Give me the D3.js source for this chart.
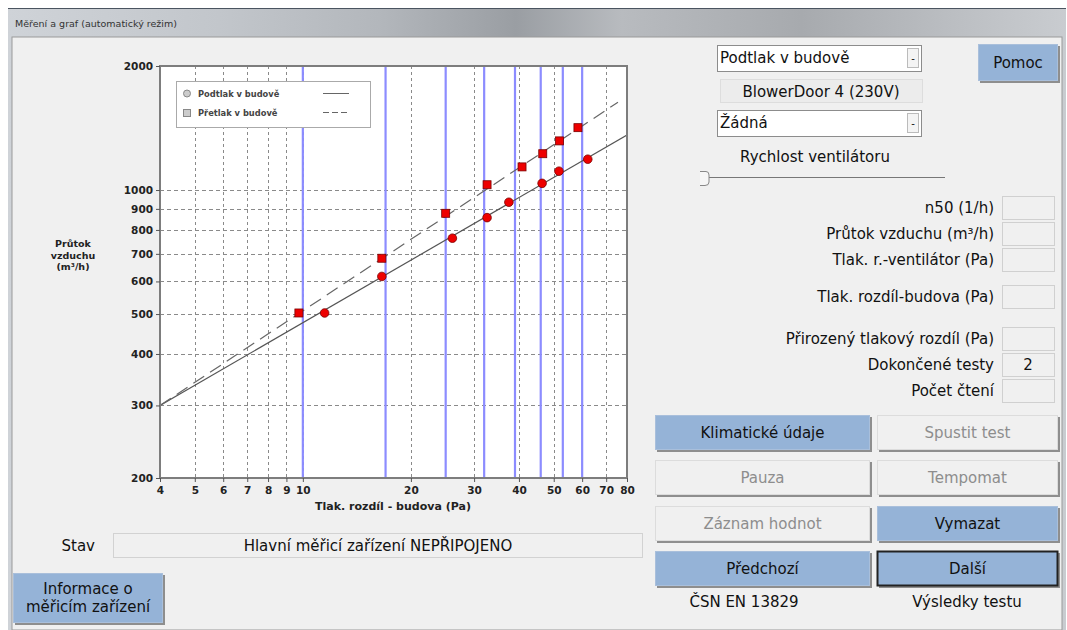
<!DOCTYPE html>
<html>
<head>
<meta charset="utf-8">
<script src="https://cdn.jsdelivr.net/npm/d3@7"></script>
<style>
  body { margin: 0; background: #fff; }
  svg text { font-family: "DejaVu Sans", Verdana, sans-serif; }
  .chart text { font-family: "DejaVu Sans", Arial, sans-serif; font-weight: bold; }
</style>
</head>
<body>
<script>
// axis ticks
var xTicks = [4, 5, 6, 7, 8, 9, 10, 20, 30, 40, 50, 60, 70, 80];
var yTicks = [200, 300, 400, 500, 600, 700, 800, 900, 1000, 2000];
var xGrid = [5, 6, 7, 8, 9, 10, 20, 30, 40, 50, 60, 70];
var yGrid = [300, 400, 500, 600, 700, 800, 900, 1000];
// target pressure steps (blue lines)
var steps = [10, 17, 25, 32, 39, 46, 53, 60];
// Podtlak v budově (circles, solid)
var podtlakX = [11.5, 16.6, 26.1, 32.6, 37.5, 46.4, 51.7, 62.2];
var podtlakY = [503, 617, 764, 857, 934, 1038, 1111, 1188];
// Přetlak v budově (squares, dashed)
var pretlakX = [9.75, 16.6, 25.0, 32.6, 40.8, 46.6, 51.9, 58.4];
var pretlakY = [503, 683, 878, 1030, 1138, 1225, 1316, 1417];
// regression lines (end points)
var podtlakFit = [[4, 300], [80, 1360]];
var pretlakFit = [[4, 300], [75.5, 1633]];

var rightLabels = ["n50 (1/h)", "Průtok vzduchu (m³/h)", "Tlak. r.-ventilátor (Pa)", "Tlak. rozdíl-budova (Pa)",
  "Přirozený tlakový rozdíl (Pa)", "Dokončené testy", "Počet čtení"];
var rightValues = ["", "", "", "", "", "2", ""];
var rightRows = [196, 222, 248, 285, 327, 353, 379];

var buttons = [
  {t: "Klimatické údaje", x: 655, y: 415, w: 215, on: true},
  {t: "Spustit test", x: 877, y: 415, w: 181, on: false},
  {t: "Pauza", x: 655, y: 460, w: 215, on: false},
  {t: "Tempomat", x: 877, y: 460, w: 181, on: false},
  {t: "Záznam hodnot", x: 655, y: 506, w: 215, on: false},
  {t: "Vymazat", x: 877, y: 506, w: 181, on: true},
  {t: "Předchozí", x: 655, y: 551, w: 215, on: true},
  {t: "Další", x: 877, y: 551, w: 181, on: true, focus: true}
];

var W = 1067, H = 630;
var FS = 15;
var svg = d3.select("body").append("svg").attr("width", W).attr("height", H);

// window frame
var defs = svg.append("defs");
var g1 = defs.append("linearGradient").attr("id", "bar");
[["0", "#cfd3d8"], ["0.2", "#c2c6cb"], ["0.35", "#b3b7bc"], ["0.48", "#9a9ea3"], ["0.58", "#b8bbbf"],
 ["0.75", "#a7aaae"], ["0.9", "#bcbfc3"], ["1", "#c9ccd0"]]
  .forEach(function(s) { g1.append("stop").attr("offset", s[0]).attr("stop-color", s[1]); });

svg.append("rect").attr("x", 8).attr("y", 8).attr("width", 1058).attr("height", 622).attr("fill", "url(#bar)");
svg.append("line").attr("x1", 8).attr("x2", 1066).attr("y1", 8.5).attr("y2", 8.5).attr("stroke", "#4a5460");
svg.append("rect").attr("x", 12).attr("y", 37).attr("width", 1050).attr("height", 593).attr("fill", "#f0f0f0")
  .attr("stroke", "#9a9a9a");
svg.append("text").attr("x", 15).attr("y", 27).attr("font-size", 9.5).attr("fill", "#333")
  .text("Měření a graf (automatický režim)");

// chart
var x = d3.scaleLog().domain([4, 80]).range([160, 627]);
var y = d3.scaleLog().domain([200, 2000]).range([478, 66]);
var chart = svg.append("g").attr("class", "chart");

chart.append("rect").attr("x", 160).attr("y", 66).attr("width", 467).attr("height", 412).attr("fill", "#fff");
defs.append("clipPath").attr("id", "plot").append("rect")
  .attr("x", 160).attr("y", 66).attr("width", 467).attr("height", 412);

chart.selectAll(".gx").data(xGrid).enter().append("line")
  .attr("x1", function(d) { return Math.round(x(d)) + 0.5; })
  .attr("x2", function(d) { return Math.round(x(d)) + 0.5; })
  .attr("y1", 66).attr("y2", 478)
  .attr("stroke", "#8a8a8a").attr("stroke-dasharray", "3,3");
chart.selectAll(".gy").data(yGrid).enter().append("line")
  .attr("y1", function(d) { return Math.round(y(d)) + 0.5; })
  .attr("y2", function(d) { return Math.round(y(d)) + 0.5; })
  .attr("x1", 160).attr("x2", 627)
  .attr("stroke", "#8a8a8a").attr("stroke-dasharray", "4,3");

chart.selectAll(".step").data(steps).enter().append("line")
  .attr("x1", function(d) { return x(d); }).attr("x2", function(d) { return x(d); })
  .attr("y1", 66).attr("y2", 478)
  .attr("stroke", "#8c8cff").attr("stroke-width", 2.2);

var line = d3.line().x(function(d) { return x(d[0]); }).y(function(d) { return y(d[1]); });
var plot = chart.append("g").attr("clip-path", "url(#plot)");
plot.append("path").attr("d", line(podtlakFit)).attr("fill", "none").attr("stroke", "#555").attr("stroke-width", 1.2);
plot.append("path").attr("d", line(pretlakFit)).attr("fill", "none").attr("stroke", "#666").attr("stroke-width", 1.2)
  .attr("stroke-dasharray", "13,7");

plot.selectAll(".sq").data(pretlakX).enter().append("rect")
  .attr("x", function(d) { return x(d) - 4; })
  .attr("y", function(d, i) { return y(pretlakY[i]) - 4; })
  .attr("width", 8).attr("height", 8)
  .attr("fill", "#ee0000").attr("stroke", "#7a0000").attr("stroke-width", 0.8);
plot.selectAll(".ci").data(podtlakX).enter().append("circle")
  .attr("cx", function(d) { return x(d); })
  .attr("cy", function(d, i) { return y(podtlakY[i]); })
  .attr("r", 4.3)
  .attr("fill", "#ee0000").attr("stroke", "#7a0000").attr("stroke-width", 0.8);

// frame and axes
chart.append("rect").attr("x", 160).attr("y", 66).attr("width", 467).attr("height", 412)
  .attr("fill", "none").attr("stroke", "#7d7d7d").attr("stroke-width", 2);

var xAxis = chart.append("g").attr("transform", "translate(0,478)")
  .call(d3.axisBottom(x).tickValues(xTicks).tickFormat(d3.format("d")).tickSize(4));
var yAxis = chart.append("g").attr("transform", "translate(160,0)")
  .call(d3.axisLeft(y).tickValues(yTicks).tickFormat(d3.format("d")).tickSize(4));
[xAxis, yAxis].forEach(function(a) {
  a.select(".domain").remove();
  a.selectAll(".tick line").attr("stroke", "#555");
  a.selectAll("text").attr("font-size", 10.5).attr("fill", "#222")
    .attr("font-family", "'DejaVu Sans', sans-serif");
});
xAxis.selectAll("text").attr("dy", "0.85em");

chart.append("text").attr("x", 393).attr("y", 510).attr("text-anchor", "middle").attr("font-size", 11)
  .attr("fill", "#222").text("Tlak. rozdíl - budova (Pa)");
["Průtok", "vzduchu", "(m³/h)"].forEach(function(t, i) {
  chart.append("text").attr("x", 73).attr("y", 247 + i * 11.5).attr("text-anchor", "middle")
    .attr("font-size", 9.5).attr("fill", "#222").text(t);
});

// legend
var lg = chart.append("g");
lg.append("rect").attr("x", 176.5).attr("y", 81.5).attr("width", 194).attr("height", 46)
  .attr("fill", "#fff").attr("stroke", "#aaa");
lg.append("circle").attr("cx", 187).attr("cy", 93.5).attr("r", 3.5).attr("fill", "#ccc").attr("stroke", "#888");
lg.append("rect").attr("x", 183.5).attr("y", 109.5).attr("width", 7).attr("height", 7).attr("fill", "#ccc").attr("stroke", "#888");
lg.append("text").attr("x", 198).attr("y", 97).attr("font-size", 8.3).attr("fill", "#444").text("Podtlak v budově");
lg.append("text").attr("x", 198).attr("y", 116).attr("font-size", 8.3).attr("fill", "#444").text("Přetlak v budově");
lg.append("line").attr("x1", 323).attr("x2", 349).attr("y1", 93.5).attr("y2", 93.5).attr("stroke", "#666");
lg.append("line").attr("x1", 323).attr("x2", 349).attr("y1", 112.5).attr("y2", 112.5).attr("stroke", "#666")
  .attr("stroke-dasharray", "6,3");

// right panel
function combo(y0, label) {
  svg.append("rect").attr("x", 717.5).attr("y", y0 + 0.5).attr("width", 204).attr("height", 26)
    .attr("fill", "#fff").attr("stroke", "#8c8c8c");
  svg.append("text").attr("x", 720).attr("y", y0 + 18).attr("font-size", FS).attr("fill", "#111").text(label);
  svg.append("rect").attr("x", 907.5).attr("y", y0 + 3.5).attr("width", 11).attr("height", 19)
    .attr("fill", "#f4f4f4").attr("stroke", "#bbb");
  svg.append("text").attr("x", 913).attr("y", y0 + 17).attr("text-anchor", "middle").attr("font-size", 10)
    .attr("fill", "#111").text("-");
}
combo(45, "Podtlak v budově");
combo(110, "Žádná");
svg.append("rect").attr("x", 720.5).attr("y", 79.5).attr("width", 202).attr("height", 23)
  .attr("fill", "#ececec").attr("stroke", "#ddd");
svg.append("text").attr("x", 821).attr("y", 97).attr("text-anchor", "middle").attr("font-size", FS)
  .attr("fill", "#111").text("BlowerDoor 4 (230V)");
svg.append("text").attr("x", 815).attr("y", 162).attr("text-anchor", "middle").attr("font-size", FS)
  .attr("fill", "#111").text("Rychlost ventilátoru");
svg.append("line").attr("x1", 708).attr("x2", 945).attr("y1", 177.5).attr("y2", 177.5).attr("stroke", "#777");
svg.append("path").attr("d", "M700,171.5 H706 Q709,171.5 709,175 V182 Q709,185.5 705,185.5 H700")
  .attr("fill", "#f6f6f6").attr("stroke", "#888");

function button(b) {
  var g = svg.append("g");
  g.append("rect").attr("x", b.x + 2).attr("y", b.y + 2).attr("width", b.w).attr("height", b.h)
    .attr("fill", "#8e8e8e");
  g.append("rect").attr("x", b.x + 0.5).attr("y", b.y + 0.5).attr("width", b.w - 1).attr("height", b.h - 1)
    .attr("fill", b.on ? "#95b3d7" : "#f0f0f0").attr("stroke", b.focus ? "#222" : (b.on ? "#a9bfdb" : "#dcdcdc"))
    .attr("stroke-width", b.focus ? 2 : 1);
  var lines = b.t.split("\n");
  lines.forEach(function(t, i) {
    g.append("text").attr("x", b.x + b.w / 2)
      .attr("y", b.y + b.h / 2 + 5 + (i - (lines.length - 1) / 2) * 18)
      .attr("text-anchor", "middle").attr("font-size", FS)
      .attr("fill", b.on ? "#111" : "#8d8d8d").text(t);
  });
}
button({t: "Pomoc", x: 978, y: 44, w: 80, h: 37, on: true});
buttons.forEach(function(b) { b.h = 35; button(b); });
button({t: "Informace o\nměřicím zařízení", x: 13, y: 573, w: 150, h: 50, on: true});

rightLabels.forEach(function(t, i) {
  var y0 = rightRows[i];
  svg.append("text").attr("x", 994).attr("y", y0 + 17).attr("text-anchor", "end").attr("font-size", FS)
    .attr("fill", "#111").text(t);
  svg.append("rect").attr("x", 1002.5).attr("y", y0 + 0.5).attr("width", 52).attr("height", 23)
    .attr("fill", "#f0f0f0").attr("stroke", "#d0d0d0");
  svg.append("text").attr("x", 1028).attr("y", y0 + 17).attr("text-anchor", "middle").attr("font-size", FS)
    .attr("fill", "#111").text(rightValues[i]);
});

svg.append("text").attr("x", 744).attr("y", 607).attr("text-anchor", "middle").attr("font-size", FS)
  .attr("fill", "#111").text("ČSN EN 13829");
svg.append("text").attr("x", 967).attr("y", 607).attr("text-anchor", "middle").attr("font-size", FS)
  .attr("fill", "#111").text("Výsledky testu");

// status
svg.append("text").attr("x", 95).attr("y", 551).attr("text-anchor", "end").attr("font-size", FS)
  .attr("fill", "#111").text("Stav");
svg.append("rect").attr("x", 113.5).attr("y", 533.5).attr("width", 529).attr("height", 24)
  .attr("fill", "#f0f0f0").attr("stroke", "#d2d2d2");
svg.append("text").attr("x", 378).attr("y", 551).attr("text-anchor", "middle").attr("font-size", FS)
  .attr("fill", "#111").text("Hlavní měřicí zařízení NEPŘIPOJENO");
</script>
</body>
</html>
